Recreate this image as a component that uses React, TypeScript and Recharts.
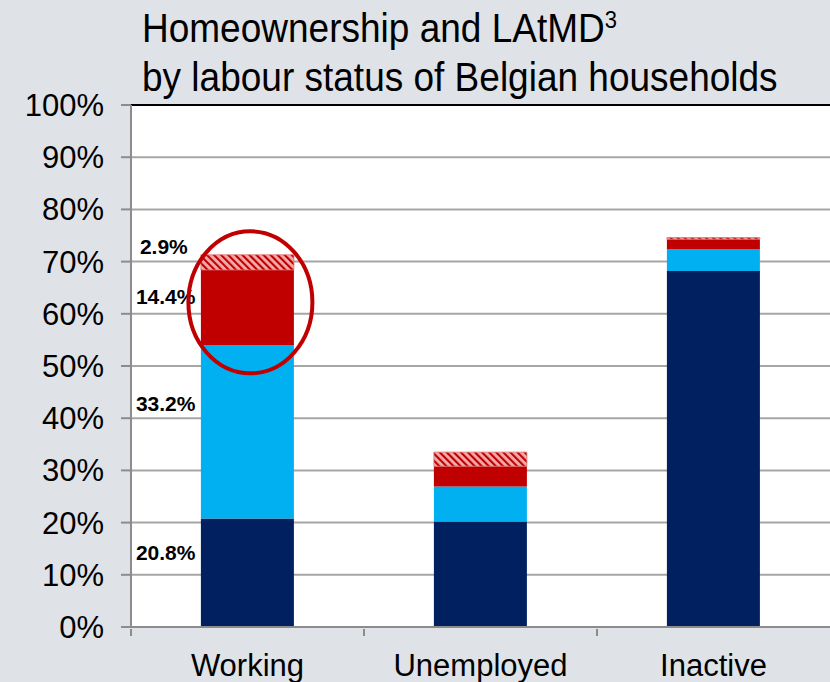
import { BarChart, Bar, XAxis, YAxis, CartesianGrid, ReferenceLine, LabelList } from 'recharts'

const categories = ['Working', 'Unemployed', 'Inactive']
const ownersOutright = [20.8, 20.2, 68.2]
const ownersMortgage = [33.2, 6.7, 4.2]
const latmd = [14.4, 3.9, 1.9]
const latmdExtra = [2.9, 2.7, 0.3]
const yTicks = [0, 10, 20, 30, 40, 50, 60, 70, 80, 90, 100]

const data = categories.map((name, i) => ({
  name,
  outright: ownersOutright[i],
  mortgage: ownersMortgage[i],
  latmd: latmd[i],
  extra: latmdExtra[i],
}))

const FONT = '"Liberation Sans", Arial, sans-serif'
const AXIS = '#8c8c8c'
const NAVY = '#002060'
const BLUE = '#00b0f0'
const RED = '#c00000'

// value labels only on the Working bar, placed left of the bar
const sideLabel = (dy: number) => (props: any) => {
  const { x, y, index, value } = props
  if (index !== 0) return null
  return (
    <text x={Number(x) - 65} y={Number(y) + dy} dominantBaseline="central"
      fontFamily={FONT} fontSize={21} fontWeight="bold" fill="#000">
      {`${Number(value).toFixed(1)}%`}
    </text>
  )
}

const extraLabel = (props: any) => {
  const { x, y, width, index, value } = props
  if (index !== 0) return null
  return (
    <g>
      <text x={Number(x) - 61} y={Number(y) - 8} dominantBaseline="central"
        fontFamily={FONT} fontSize={21} fontWeight="bold" fill="#000">
        {`${Number(value).toFixed(1)}%`}
      </text>
      <ellipse cx={Number(x) + Number(width) / 2 + 3} cy={Number(y) + 47.5} rx={62} ry={71}
        fill="none" stroke={RED} strokeWidth={4} />
    </g>
  )
}

const XTick = (props: any) => {
  const { x, y, payload } = props
  const half = payload?.offset ?? 116.75
  return (
    <g>
      <line x1={x - half} x2={x - half} y1={y - 6} y2={y + 1} stroke={AXIS} strokeWidth={2} />
      <text x={x} y={y + 19} dy="0.71em" textAnchor="middle" fontFamily={FONT} fontSize={31} fill="#000">
        {payload.value}
      </text>
    </g>
  )
}

export default function App() {
  return (
    <div style={{ position: 'absolute', left: 0, top: 0, width: 830, height: 682, background: '#dfe3e8', overflow: 'hidden' }}>
      <div style={{ position: 'absolute', left: 142, top: 7, fontFamily: FONT, fontSize: 37, lineHeight: '39px', color: '#000', whiteSpace: 'nowrap', transform: 'scaleY(1.1)', transformOrigin: '0 0' }}>
        <div>Homeownership and LAtMD<span style={{ fontSize: 22, position: 'relative', top: -13 }}>3</span></div>
        <div>by labour status of Belgian households</div>
      </div>
      <BarChart width={830} height={682} data={data} barCategoryGap="30%"
        margin={{ top: 105, right: 0, left: 0, bottom: 0 }}>
        <defs>
          <pattern id="hatch" width="5" height="5" patternUnits="userSpaceOnUse" patternTransform="rotate(-45)">
            <rect width="5" height="5" fill="#f2a9a9" />
            <line x1="1" y1="0" x2="1" y2="5" stroke={RED} strokeWidth="2.2" />
          </pattern>
        </defs>
        <CartesianGrid vertical={false} stroke="#a6a6a6" strokeWidth={2} fill="#ffffff" />
        <XAxis dataKey="name" height={55} axisLine={{ stroke: AXIS, strokeWidth: 2 }} tickLine={false}
          tick={<XTick />} interval={0} />
        <YAxis width={131} domain={[0, 100]} ticks={yTicks} interval={0}
          tickFormatter={(v: number) => `${v}%`}
          tick={{ fontFamily: FONT, fontSize: 31, fill: '#000' }}
          tickSize={10} tickMargin={17}
          axisLine={{ stroke: AXIS, strokeWidth: 2 }} tickLine={{ stroke: AXIS, strokeWidth: 2 }} />
        <ReferenceLine y={100} stroke="#000" strokeWidth={2} />
        <Bar dataKey="outright" stackId="a" fill={NAVY} isAnimationActive={false}>
          <LabelList dataKey="outright" content={sideLabel(34)} />
        </Bar>
        <Bar dataKey="mortgage" stackId="a" fill={BLUE} isAnimationActive={false}>
          <LabelList dataKey="mortgage" content={sideLabel(58)} />
        </Bar>
        <Bar dataKey="latmd" stackId="a" fill={RED} isAnimationActive={false}>
          <LabelList dataKey="latmd" content={sideLabel(27)} />
        </Bar>
        <Bar dataKey="extra" stackId="a" fill="url(#hatch)" stroke="#e07070" strokeWidth={0.8} isAnimationActive={false}>
          <LabelList dataKey="extra" content={extraLabel} />
        </Bar>
      </BarChart>
    </div>
  )
}
